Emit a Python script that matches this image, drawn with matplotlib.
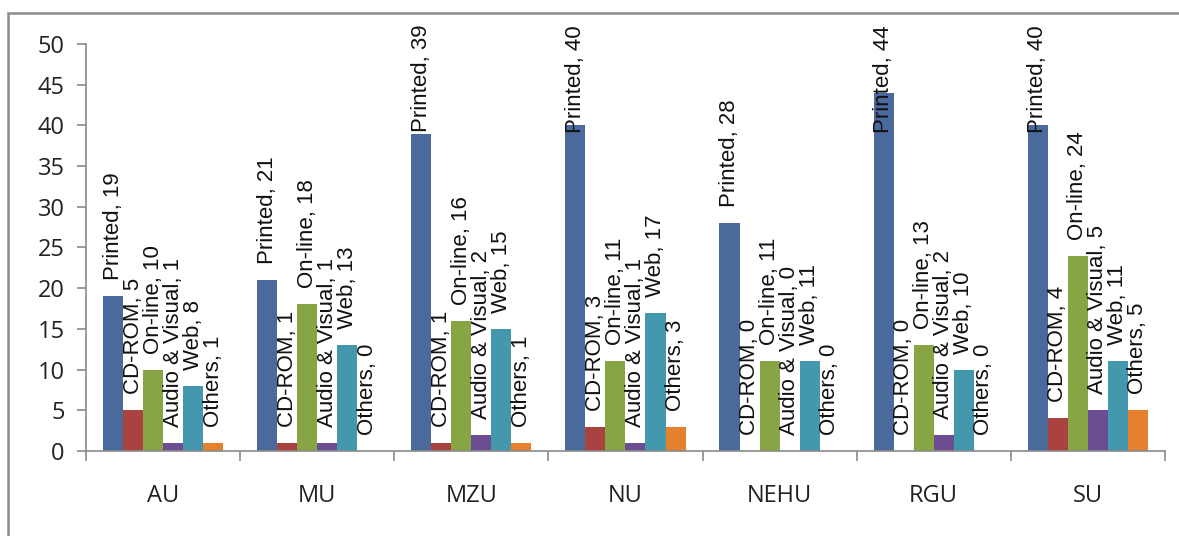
import numpy as np
import matplotlib.pyplot as plt
from matplotlib.patches import Rectangle
from matplotlib.ticker import FixedLocator

universities = ["AU", "MU", "MZU", "NU", "NEHU", "RGU", "SU"]
formats = ["Printed", "CD-ROM", "On-line", "Audio & Visual", "Web", "Others"]
printed = [19, 21, 39, 40, 28, 44, 40]
cdrom = [5, 1, 1, 3, 0, 0, 4]
online = [10, 18, 16, 11, 11, 13, 24]
audio_visual = [1, 1, 2, 1, 0, 2, 5]
web = [8, 13, 15, 17, 11, 10, 11]
others = [1, 0, 1, 3, 0, 0, 5]
series = [printed, cdrom, online, audio_visual, web, others]
colors = ["#4a6a9c", "#aa4340", "#87a545", "#6c4d91", "#4398ad", "#e5802f"]

axis_grey = "#8a8a8a"
tick_font = "Open Sans"
label_font = "Liberation Sans"

fig = plt.figure(figsize=(11.79, 5.36), dpi=100)
ax = fig.add_axes([0.073, 0.1586, 0.915, 0.7594])

# outer chart frame, running off the right and bottom edges
fig.patches.append(Rectangle((8 / 1179, -0.05), 1.1, 1 - 13 / 536 + 0.05,
                             transform=fig.transFigure, fill=False,
                             edgecolor="#8c8c8c", linewidth=1.8, zorder=0))

x = np.arange(len(universities))
bw = 0.13
bars = []
for i, (vals, col) in enumerate(zip(series, colors)):
    pos = x + (i - 2.5) * bw
    bars.append((pos, ax.bar(pos, vals, width=bw, color=col, linewidth=0, zorder=2)))

ax.set_xlim(-0.5, len(universities) - 0.5)
ax.set_ylim(0, 50)
ax.set_yticks(range(0, 51, 5))

for s in ["top", "right"]:
    ax.spines[s].set_visible(False)
for s in ["left", "bottom"]:
    ax.spines[s].set_color(axis_grey)
    ax.spines[s].set_linewidth(1.2)

ax.set_xticks(x)
ax.set_xticklabels(universities)
ax.xaxis.set_minor_locator(FixedLocator(np.arange(-0.5, len(universities), 1.0)))
ax.tick_params(axis="both", labelsize=17, labelcolor="#222222",
               labelfontfamily=tick_font)
ax.tick_params(axis="x", which="major", length=0, pad=24)
ax.tick_params(axis="x", which="minor", length=7, width=1.2, color=axis_grey,
               direction="out")
ax.tick_params(axis="y", length=6.5, width=1.2, color=axis_grey, pad=9)

# rotated value labels above each bar, pushed down if they hit the top
renderer = fig.canvas.get_renderer()
top_limit = 536 - 25
gap = 16
for name, vals, (pos, _) in zip(formats, series, bars):
    for xp, v in zip(pos, vals):
        txt = "%s, %d" % (name, v)
        t = ax.text(xp, v, txt, rotation=90, ha="center", va="bottom",
                    fontfamily=label_font, fontsize=16, color="#111111",
                    zorder=3)
        length = t.get_window_extent(renderer).height
        px, py = ax.transData.transform((xp, v))
        yb = min(py + gap, top_limit - length)
        t.set_position(ax.transData.inverted().transform((px, yb)))

fig.savefig("out.png", dpi=100)
